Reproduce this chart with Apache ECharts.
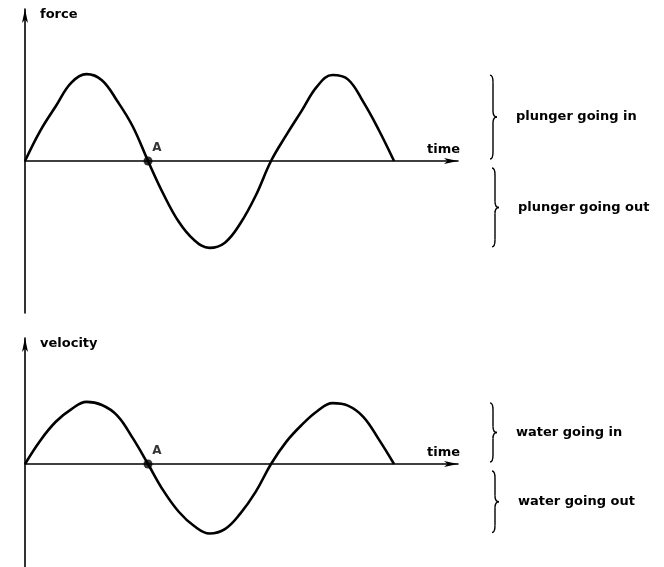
<!DOCTYPE html>
<html>
<head>
<meta charset="utf-8">
<style>
html, body { margin: 0; padding: 0; background: #fff; }
#chart { width: 664px; height: 567px; }
</style>
<script src="https://cdn.jsdelivr.net/npm/echarts@6/dist/echarts.min.js"></script>
</head>
<body>
<div id="chart"></div>
<script>
// time in half-cycles (step 1/8) (peak ~ 1)
const timeSteps = [0, 0.125, 0.25, 0.375, 0.5, 0.625, 0.75, 0.875, 1.0, 1.125, 1.25, 1.375, 1.5, 1.625, 1.75, 1.875, 2.0, 2.125, 2.25, 2.375, 2.5, 2.625, 2.75, 2.875, 3.0]
const force    = [0, 0.35, 0.63, 0.90, 1.0, 0.93, 0.69, 0.40, 0, -0.38, -0.70, -0.91, -1.0, -0.94, -0.72, -0.40, 0, 0.30, 0.58, 0.86, 0.99, 0.94, 0.68, 0.36, 0]
const velocity = [0, 0.38, 0.68, 0.88, 1.0, 0.95, 0.78, 0.42, 0, -0.43, -0.77, -1.0, -1.12, -1.05, -0.80, -0.45, 0, 0.36, 0.63, 0.85, 0.98, 0.94, 0.76, 0.40, 0]
const pointA = [1.0, 0]
const panelNames = ['force', 'velocity']
const timeName = 'time'
const forceNotes = ['plunger going in', 'plunger going out']
const velocityNotes = ['water going in', 'water going out']

const FONT = '"DejaVu Sans", sans-serif'
const chart = echarts.init(document.getElementById('chart'), null, { renderer: 'canvas' })

const axisLine = {
  symbol: ['none', 'arrow'], symbolSize: [4.5, 14],
  lineStyle: { color: '#000', width: 1.6 },
}

function xAx(gridIndex) {
  return {
    type: 'value', gridIndex, min: 0, max: 3.52,
    axisLine, axisTick: { show: false }, axisLabel: { show: false }, splitLine: { show: false },
    name: timeName, nameLocation: 'end', nameGap: 2,
    nameTextStyle: { color: '#000', fontFamily: FONT, fontWeight: 'bold', fontSize: 13, align: 'right', verticalAlign: 'bottom', padding: [0, 0, 5, 0] },
  }
}
function yAx(gridIndex, min, max, name) {
  return {
    type: 'value', gridIndex, min, max,
    axisLine, axisTick: { show: false }, axisLabel: { show: false }, splitLine: { show: false },
    name, nameLocation: 'end', nameGap: -6,
    nameTextStyle: { color: '#000', fontFamily: FONT, fontWeight: 'bold', fontSize: 13, align: 'left', verticalAlign: 'middle', padding: [0, 0, 0, 15] },
  }
}
function curve(idx, values) {
  return {
    type: 'line', xAxisIndex: idx, yAxisIndex: idx,
    data: timeSteps.map((t, i) => [t, values[i]]),
    smooth: 0.4, showSymbol: false, silent: true,
    lineStyle: { color: '#000', width: 2.6 },
  }
}
function markA(idx) {
  return {
    type: 'scatter', xAxisIndex: idx, yAxisIndex: idx, data: [pointA],
    symbolSize: 9, itemStyle: { color: '#000' }, silent: true,
    label: { show: true, formatter: 'A', position: 'top', offset: [9, 2], color: '#000', fontFamily: FONT, fontWeight: 'bold', fontSize: 12 },
  }
}

chart.setOption({
  animation: false,
  grid: [
    { left: 25, top: 9, width: 433, height: 304 },
    { left: 25, top: 338, width: 433, height: 229 },
  ],
  xAxis: [xAx(0), xAx(1)],
  yAxis: [yAx(0, -1.75, 1.75, panelNames[0]), yAx(1, -1.66, 2.03, panelNames[1])],
  series: [curve(0, force), markA(0), curve(1, velocity), markA(1)],
})

// curly brace "}" built from line / bezier pieces
function brace(x, y0, y1, w) {
  const ym = (y0 + y1) / 2, s = { stroke: '#000', lineWidth: 1.4, fill: null }
  const q = (x1, y1_, cx, cy, x2, y2) => ({ type: 'bezierCurve', shape: { x1, y1: y1_, cpx1: cx, cpy1: cy, x2, y2 }, style: s })
  const l = (x1, y1_, x2, y2) => ({ type: 'line', shape: { x1, y1: y1_, x2, y2 }, style: s })
  return [
    q(x, y0, x + 3, y0, x + 3, y0 + 7),
    l(x + 3, y0 + 7, x + 3, ym - 6),
    q(x + 3, ym - 6, x + 3, ym, x + w, ym),
    q(x + w, ym, x + 3, ym, x + 3, ym + 6),
    l(x + 3, ym + 6, x + 3, y1 - 7),
    q(x + 3, y1 - 7, x + 3, y1, x, y1),
  ]
}
const graphic = []
;[[force, forceNotes], [velocity, velocityNotes]].forEach(([vals, notes], gi) => {
  const yTop = chart.convertToPixel({ gridIndex: gi }, [0, Math.max(...vals)])[1]
  const yZero = chart.convertToPixel({ gridIndex: gi }, [0, 0])[1]
  const yBot = chart.convertToPixel({ gridIndex: gi }, [0, Math.min(...vals)])[1]
  const spans = [[yTop + 1, yZero - 2], [yZero + 7, yBot - 1]]
  spans.forEach(([a, b], k) => {
    const bx = 490 + k * 2
    graphic.push(...brace(bx, a, b, 7))
    graphic.push({ type: 'text', style: { text: notes[k], x: bx + 26, y: (a + b) / 2, fill: '#000', font: 'bold 13px ' + FONT, verticalAlign: 'middle' } })
  })
})
chart.setOption({ graphic })
</script>
</body>
</html>
